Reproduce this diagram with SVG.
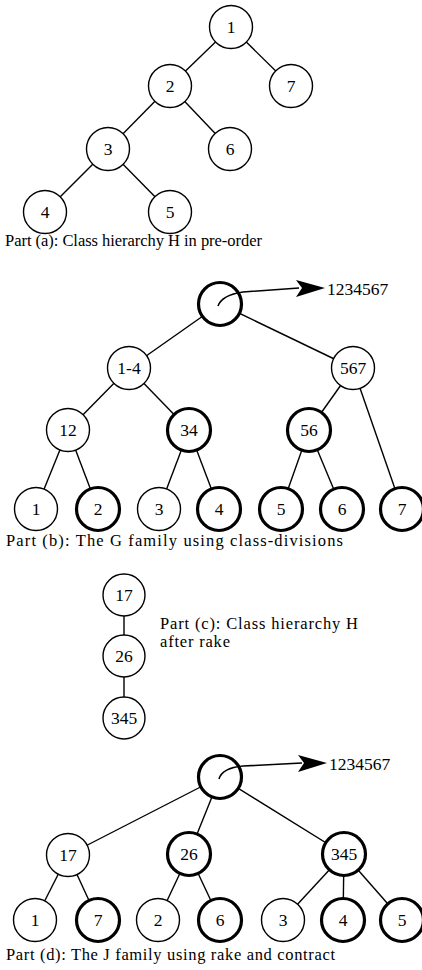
<svg xmlns="http://www.w3.org/2000/svg" width="422" height="970" viewBox="0 0 422 970">
  <style>
    .edge { stroke: #000; stroke-width: 1.4; fill: none; }
    .node circle { fill: #fff; stroke: #000; stroke-width: 1.4; }
    .node.bold circle { stroke-width: 3.2; }
    .node text { font-family: 'Liberation Serif', 'DejaVu Serif', serif; font-size: 17.5px; text-anchor: middle; dominant-baseline: central; fill: #000; }
    .caption { font-family: 'Liberation Serif', 'DejaVu Serif', serif; font-size: 16.5px; fill: #000; }
    .pointer { stroke: #000; stroke-width: 1.6; fill: none; }
    .head { fill: #000; stroke: none; }
    .target { font-family: 'Liberation Serif', 'DejaVu Serif', serif; font-size: 17.5px; fill: #000; }
  </style>
  <rect width="422" height="970" fill="#fff"/>

  <!-- tree edges, drawn under the node circles -->
  <g id="connectors">
    <!-- part (a) -->
    <line class="edge" x1="231" y1="27" x2="170" y2="86"/>
    <line class="edge" x1="231" y1="27" x2="291" y2="86"/>
    <line class="edge" x1="170" y1="86" x2="108" y2="149"/>
    <line class="edge" x1="170" y1="86" x2="230" y2="149"/>
    <line class="edge" x1="108" y1="149" x2="45" y2="212"/>
    <line class="edge" x1="108" y1="149" x2="170" y2="212"/>
    <!-- part (b) -->
    <line class="edge" x1="220" y1="304" x2="129" y2="368"/>
    <line class="edge" x1="220" y1="304" x2="353" y2="368"/>
    <line class="edge" x1="129" y1="368" x2="68" y2="430"/>
    <line class="edge" x1="129" y1="368" x2="189" y2="430"/>
    <line class="edge" x1="353" y1="368" x2="309" y2="430"/>
    <line class="edge" x1="353" y1="368" x2="402" y2="509"/>
    <line class="edge" x1="68" y1="430" x2="36" y2="509"/>
    <line class="edge" x1="68" y1="430" x2="98" y2="509"/>
    <line class="edge" x1="189" y1="430" x2="159" y2="509"/>
    <line class="edge" x1="189" y1="430" x2="219" y2="509"/>
    <line class="edge" x1="309" y1="430" x2="281" y2="509"/>
    <line class="edge" x1="309" y1="430" x2="342" y2="509"/>
    <!-- part (c) -->
    <line class="edge" x1="124" y1="595" x2="124" y2="656"/>
    <line class="edge" x1="124" y1="656" x2="124" y2="718"/>
    <!-- part (d) -->
    <line class="edge" x1="220" y1="777" x2="68" y2="855"/>
    <line class="edge" x1="220" y1="777" x2="189" y2="854"/>
    <line class="edge" x1="220" y1="777" x2="344" y2="854"/>
    <line class="edge" x1="68" y1="855" x2="35" y2="920"/>
    <line class="edge" x1="68" y1="855" x2="98" y2="920"/>
    <line class="edge" x1="189" y1="854" x2="158" y2="920"/>
    <line class="edge" x1="189" y1="854" x2="220" y2="920"/>
    <line class="edge" x1="344" y1="854" x2="283" y2="920"/>
    <line class="edge" x1="344" y1="854" x2="343" y2="920"/>
    <line class="edge" x1="344" y1="854" x2="402" y2="920"/>
  </g>

  <!-- part (a): class hierarchy H -->
  <g id="a-1" class="node"><circle cx="231" cy="27" r="21.5"/><text x="231" y="27">1</text></g>
  <g id="a-2" class="node"><circle cx="170" cy="86" r="21.5"/><text x="170" y="86">2</text></g>
  <g id="a-7" class="node"><circle cx="291" cy="86" r="21.5"/><text x="291" y="86">7</text></g>
  <g id="a-3" class="node"><circle cx="108" cy="149" r="21.5"/><text x="108" y="149">3</text></g>
  <g id="a-6" class="node"><circle cx="230" cy="149" r="21.5"/><text x="230" y="149">6</text></g>
  <g id="a-4" class="node"><circle cx="45" cy="212" r="21.5"/><text x="45" y="212">4</text></g>
  <g id="a-5" class="node"><circle cx="170" cy="212" r="21.5"/><text x="170" y="212">5</text></g>
  <text class="caption" x="5" y="246" textLength="257" lengthAdjust="spacing">Part (a): Class hierarchy H in pre-order</text>

  <!-- part (b): G family -->
  <g id="b-root" class="node bold"><circle cx="220" cy="304" r="21.5"/></g>
  <g id="b-1-4" class="node"><circle cx="129" cy="368" r="21.5"/><text x="129" y="368">1-4</text></g>
  <g id="b-567" class="node"><circle cx="353" cy="368" r="21.5"/><text x="353" y="368">567</text></g>
  <g id="b-12" class="node"><circle cx="68" cy="430" r="21.5"/><text x="68" y="430">12</text></g>
  <g id="b-34" class="node bold"><circle cx="189" cy="430" r="21.5"/><text x="189" y="430">34</text></g>
  <g id="b-56" class="node bold"><circle cx="309" cy="430" r="21.5"/><text x="309" y="430">56</text></g>
  <g id="b-1" class="node"><circle cx="36" cy="509" r="21.5"/><text x="36" y="509">1</text></g>
  <g id="b-2" class="node bold"><circle cx="98" cy="509" r="21.5"/><text x="98" y="509">2</text></g>
  <g id="b-3" class="node"><circle cx="159" cy="509" r="21.5"/><text x="159" y="509">3</text></g>
  <g id="b-4" class="node bold"><circle cx="219" cy="509" r="21.5"/><text x="219" y="509">4</text></g>
  <g id="b-5" class="node bold"><circle cx="281" cy="509" r="21.5"/><text x="281" y="509">5</text></g>
  <g id="b-6" class="node bold"><circle cx="342" cy="509" r="21.5"/><text x="342" y="509">6</text></g>
  <g id="b-7" class="node bold"><circle cx="402" cy="509" r="21.5"/><text x="402" y="509">7</text></g>
  <text class="caption" x="6" y="546" textLength="337" lengthAdjust="spacing">Part (b): The G family using class-divisions</text>

  <!-- part (c): H after rake -->
  <g id="c-17" class="node"><circle cx="124" cy="595" r="21"/><text x="124" y="595">17</text></g>
  <g id="c-26" class="node"><circle cx="124" cy="656" r="21"/><text x="124" y="656">26</text></g>
  <g id="c-345" class="node"><circle cx="124" cy="718" r="21"/><text x="124" y="718">345</text></g>
  <text class="caption" x="160" y="629" textLength="198" lengthAdjust="spacing">Part (c): Class hierarchy H</text>
  <text class="caption" x="160" y="647" textLength="70" lengthAdjust="spacing">after rake</text>

  <!-- part (d): J family -->
  <g id="d-root" class="node bold"><circle cx="220" cy="777" r="21.5"/></g>
  <g id="d-17" class="node"><circle cx="68" cy="855" r="21.5"/><text x="68" y="855">17</text></g>
  <g id="d-26" class="node bold"><circle cx="189" cy="854" r="21.5"/><text x="189" y="854">26</text></g>
  <g id="d-345" class="node bold"><circle cx="344" cy="854" r="21.5"/><text x="344" y="854">345</text></g>
  <g id="d-1" class="node"><circle cx="35" cy="920" r="21.5"/><text x="35" y="920">1</text></g>
  <g id="d-7" class="node bold"><circle cx="98" cy="920" r="21.5"/><text x="98" y="920">7</text></g>
  <g id="d-2" class="node"><circle cx="158" cy="920" r="21.5"/><text x="158" y="920">2</text></g>
  <g id="d-6" class="node bold"><circle cx="220" cy="920" r="21.5"/><text x="220" y="920">6</text></g>
  <g id="d-3" class="node"><circle cx="283" cy="920" r="21.5"/><text x="283" y="920">3</text></g>
  <g id="d-4" class="node bold"><circle cx="343" cy="920" r="21.5"/><text x="343" y="920">4</text></g>
  <g id="d-5" class="node bold"><circle cx="402" cy="920" r="21.5"/><text x="402" y="920">5</text></g>
  <text class="caption" x="6" y="960" textLength="329" lengthAdjust="spacing">Part (d): The J family using rake and contract</text>

  <!-- root pointers to the full class set -->
  <g id="pointers">
    <path class="pointer" d="M218,306 Q222,295 243,292 L299,288"/>
    <polygon class="head" points="296,280 325,288 296,297 302,288"/>
    <text class="target" x="327" y="295">1234567</text>
    <path class="pointer" d="M219,779 Q222,768 243,766 L302,763"/>
    <polygon class="head" points="298,755 327,763 298,772 304,763"/>
    <text class="target" x="329" y="770">1234567</text>
  </g>
</svg>
